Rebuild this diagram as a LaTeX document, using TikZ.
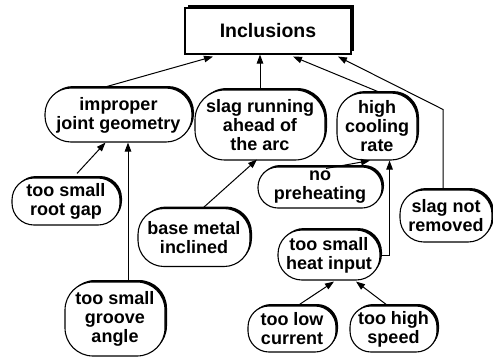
\documentclass[tikz,border=0pt]{standalone}
\usepackage{fontspec}
\setmainfont{Liberation Sans}
\usetikzlibrary{arrows.meta,shadows,calc}

\tikzset{
  every node/.style={font=\bfseries\fontsize{18}{19}\selectfont, align=center, inner sep=0pt},
  cause/.style={draw, line width=1.1pt, fill=white, rounded corners=#1,
    general shadow={shadow xshift=2pt, shadow yshift=2pt, fill=black}},
  cause/.default=20pt,
  topbox/.style={draw, line width=1.1pt, fill=white,
    general shadow={shadow xshift=3pt, shadow yshift=3pt, fill=black}},
  arr/.style={line width=1pt, -{Triangle[length=9pt,width=6.5pt]}},
}

\begin{document}
\begin{tikzpicture}[x=1pt,y=-1pt]
  \useasboundingbox (0,0) rectangle (493,357);

  % top event
  \node[topbox, minimum width=166pt, minimum height=46pt, font=\bfseries\fontsize{19.5}{21}\selectfont]
    (inc) at (268,31) {Inclusions};

  % first level causes
  \node[cause=26pt, minimum width=147pt, minimum height=54pt] (ijg) at (118.5,115) {improper\\joint geometry};
  \node[cause=30pt, minimum width=130pt, minimum height=70pt] (slag) at (260,125) {slag running\\ahead of\\the arc};
  \node[cause=26pt, minimum width=80pt, minimum height=67pt] (hcr) at (377,126.5) {high\\cooling\\rate};
  \node[cause=24pt, minimum width=92pt, minimum height=52pt] (snr) at (446,216) {slag not\\removed};

  % second level causes
  \node[cause=22pt, minimum width=108pt, minimum height=47pt] (rg) at (66,201.5) {too small\\root gap};
  \node[cause=28pt, minimum width=100pt, minimum height=74pt] (ga) at (115,319) {too small\\groove\\angle};
  \node[cause=26pt, minimum width=112pt, minimum height=58pt] (bmi) at (194,237.5) {base metal\\inclined};
  \node[cause=20pt, minimum width=124pt, minimum height=41pt] (nop) at (320,187.5) {no\\preheating};
  \node[cause=24pt, minimum width=102pt, minimum height=50pt] (hi) at (329,255) {too small\\heat input};

  % third level causes
  \node[cause=21pt, minimum width=88pt, minimum height=46pt] (lc) at (292,329) {too low\\current};
  \node[cause=21pt, minimum width=87pt, minimum height=46pt] (hs) at (393.5,329) {too high\\speed};

  % connectors into the top event
  \draw[arr] ($(ijg.north)+(-15,0)$) -- ($(inc.south)+(-55,2)$);
  \draw[arr] (slag.north) -- (slag.north |- inc.south);
  \draw[arr] ($(hcr.north)+(3,0)$) -- ($(inc.south)+(25,2)$);
  \coordinate (snrbend) at ($(snr.north)+(-3,-80)$);
  \draw[arr] ($(snr.north)+(-3,0)$) -- (snrbend) -- ($(inc.south)+(70,2)$);

  % connectors into the first level
  \draw[arr] ($(rg.north)+(11,-4)$) -- ($(ijg.south)+(-13,0)$);
  \coordinate (gtop) at ($(ga.north)+(13,0)$);
  \draw[arr] (gtop) -- (gtop |- ijg.south);
  \draw[arr] ($(bmi.north)+(9,0)$) -- ($(slag.south)+(-3,-1)$);
  \draw[arr] ($(nop.north)+(6,2)$) -- ($(hcr.south)+(-7,0)$);
  \coordinate (hibend) at ($(hi.east)+(9,0)$);
  \draw[arr] (hi.east) -- (hibend) -- (hibend |- hcr.south);

  % connectors into the second level
  \draw[arr] ($(lc.north)+(6,0)$) -- ($(hi.south)+(5,1)$);
  \draw[arr] ($(hs.north)+(-6,0)$) -- ($(hi.south)+(27,1)$);
\end{tikzpicture}
\end{document}
